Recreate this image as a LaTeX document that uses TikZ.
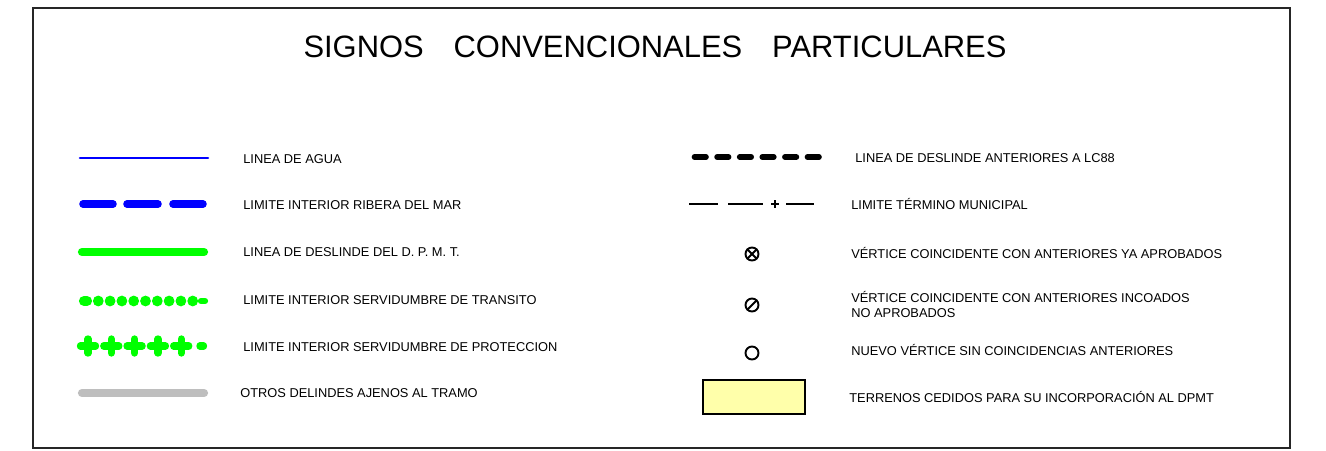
\documentclass[tikz,border=0pt]{standalone}
\usepackage{fontspec}
\setmainfont{Liberation Sans}
\usepackage{tikz}

\definecolor{verde}{RGB}{0,255,0}
\definecolor{azul}{RGB}{0,0,255}
\definecolor{gris}{RGB}{190,190,190}
\definecolor{amarillo}{RGB}{255,255,170}

\begin{document}
\begin{tikzpicture}[x=0.02cm,y=-0.02cm,line cap=round,
  lbl/.style={anchor=base west,inner sep=0pt,font=\fontsize{7.3}{8.7}\selectfont},
  vert/.style={line width=1.1pt}]

\useasboundingbox (0,0) rectangle (1326,450);
\draw[line width=1.1pt,black!85,line cap=rect] (33,8) rectangle (1290,448);

\node (titulo) [anchor=base,inner sep=0pt,font=\fontsize{17.6}{20}\selectfont] at (655,57)
  {SIGNOS\hspace{17pt}CONVENCIONALES\hspace{17pt}PARTICULARES};

% columna izquierda
\draw[azul,line width=1.5pt] (80,158)--(208,158);
\draw[azul,line width=4.3pt] (83,204)--(113,204) (127,204)--(158,204) (173,204)--(203,204);
\draw[verde,line width=4.7pt] (82,252)--(204,252);
\draw[verde,line width=5.8pt] (84,301)--(87,301);
\foreach \i in {0,...,8}
  \fill[verde] (98.3+11.8*\i,301) circle (5.4);
\draw[verde,line width=3.6pt] (201,301)--(205,301);
\foreach \i in {0,...,4}
  \draw[verde,line width=4.2pt] (88+23.3*\i,346)++(-7.5,0)--++(15,0) (88+23.3*\i,339)--(88+23.3*\i,353);
\draw[verde,line width=4.2pt] (200,346)--(203.5,346);
\draw[gris,line width=4.7pt] (82,393)--(204,393);

\node (agua) [lbl] at (243,163) {LINEA DE AGUA};
\node (ribera) [lbl] at (243,209) {LIMITE INTERIOR RIBERA DEL MAR};
\node (dpmt) [lbl] at (243,256) {LINEA DE DESLINDE DEL D. P. M. T.};
\node (transito) [lbl] at (243,304) {LIMITE INTERIOR SERVIDUMBRE DE TRANSITO};
\node (proteccion) [lbl] at (243,351) {LIMITE INTERIOR SERVIDUMBRE DE PROTECCION};
\node (otros) [lbl] at (240,397) {OTROS DELINDES AJENOS AL TRAMO};

% columna derecha
\foreach \i in {0,...,5}
  \draw[line width=3.2pt] (694.5+22.6*\i,157)--(706+22.6*\i,157);
\draw[line width=1.2pt,line cap=butt] (689,204)--(718,204) (728,204)--(763,204) (786,204)--(814,204);
\draw[line width=1.2pt,line cap=butt] (771,204)--(779,204) (775,200)--(775,208);

\draw[vert] (752,254) circle (6.5);
\draw[vert] (752,254) ++(-4.6,-4.6) -- ++(9.2,9.2);
\draw[vert] (752,254) ++(-4.6,4.6) -- ++(9.2,-9.2);
\draw[vert] (752,305) circle (6.5);
\draw[vert] (752,305) ++(-4.6,4.6) -- ++(9.2,-9.2);
\draw[vert] (752,353) circle (6.5);
\draw[line width=1pt,fill=amarillo] (703,380) rectangle (805,414);

\node (lc88) [lbl] at (855,162) {LINEA DE DESLINDE ANTERIORES A LC88};
\node (municipal) [lbl] at (851,209) {LIMITE TÉRMINO MUNICIPAL};
\node (aprobados) [lbl] at (851,258) {VÉRTICE COINCIDENTE CON ANTERIORES YA APROBADOS};
\node (incoados) [lbl] at (851,302) {VÉRTICE COINCIDENTE CON ANTERIORES INCOADOS};
\node (noaprob) [lbl] at (851,317) {NO APROBADOS};
\node (nuevo) [lbl] at (851,355) {NUEVO VÉRTICE SIN COINCIDENCIAS ANTERIORES};
\node (terrenos) [lbl] at (849,402) {TERRENOS CEDIDOS PARA SU INCORPORACIÓN AL DPMT};

\end{tikzpicture}
\end{document}
